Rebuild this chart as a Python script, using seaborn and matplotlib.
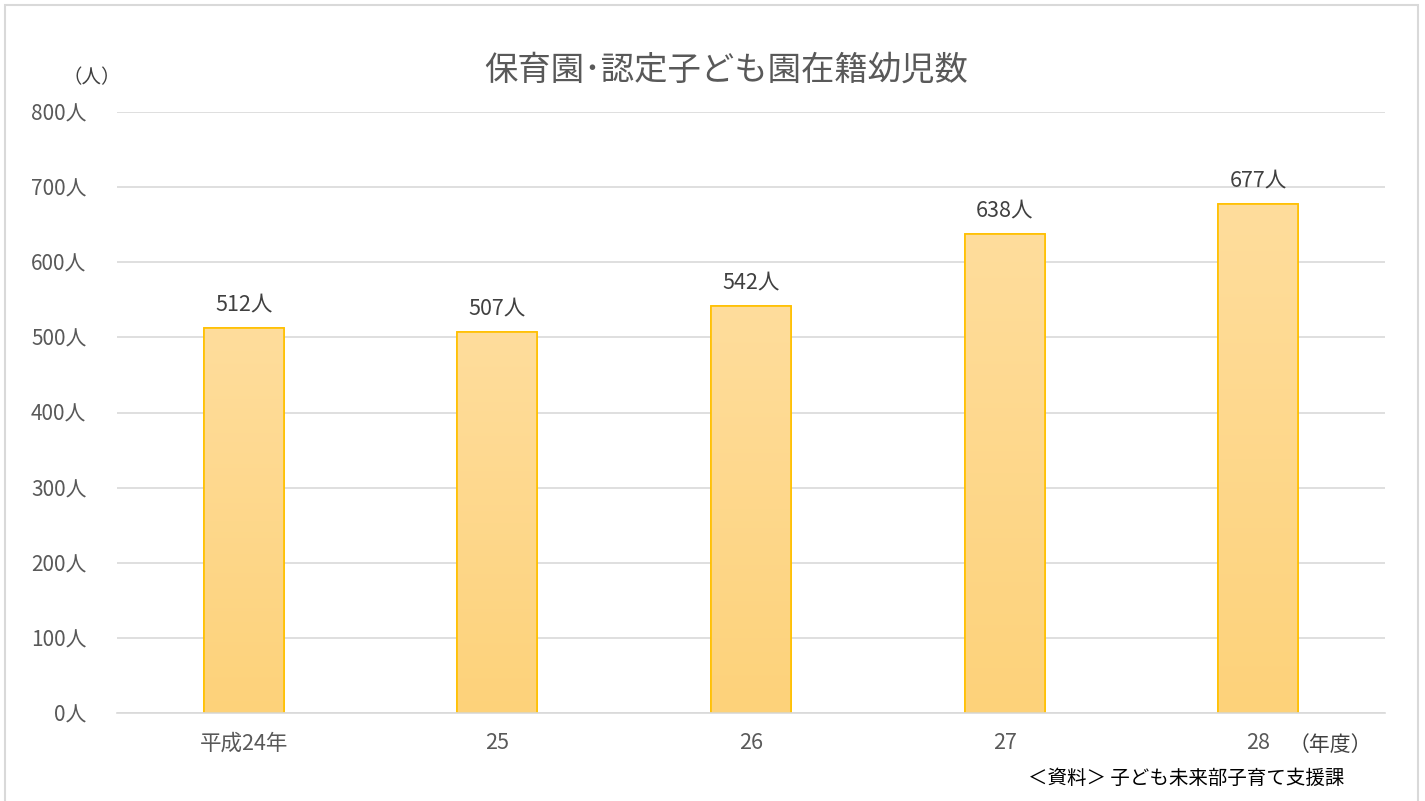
import matplotlib
matplotlib.use("Agg")
import matplotlib.pyplot as plt
import seaborn as sns
import numpy as np
import pandas as pd
from matplotlib.patches import Rectangle
from matplotlib.colors import LinearSegmentedColormap

categories = ["平成24年", "25", "26", "27", "28"]
values = [512, 507, 542, 638, 677]
yticks = [0, 100, 200, 300, 400, 500, 600, 700, 800]
ytick_labels = [f"{v}人" for v in yticks]
title = "保育園･認定子ども園在籍幼児数"
source = "＜資料＞ 子ども未来部子育て支援課"

sns.set_theme(style="white")
plt.rcParams['font.family'] = ['Noto Sans CJK JP', 'DejaVu Sans']

fig = plt.figure(figsize=(14.25, 8.01), dpi=100)
ax = fig.add_axes([117/1425, 1-713/801, (1385-117)/1425, (713-112)/801])

df = pd.DataFrame({"cat": categories, "val": values})
sns.barplot(data=df, x="cat", y="val", ax=ax, width=0.315,
            color="#FFD88C", edgecolor="#FFC000", linewidth=1.2, saturation=1)

# gradient fill
grad = np.linspace(0, 1, 256).reshape(-1, 1)
cmap = LinearSegmentedColormap.from_list("g", ["#FDD27A", "#FFDD9C"])
for p in list(ax.patches):
    x0, y0 = p.get_x(), p.get_y()
    w, h = p.get_width(), p.get_height()
    im = ax.imshow(grad, extent=[x0, x0 + w, y0, y0 + h], origin="lower",
                   cmap=cmap, aspect="auto", zorder=p.get_zorder() + 0.1)
    im.set_clip_path(p)
    edge = Rectangle((x0, y0), w, h, fill=False, edgecolor="#FFC000",
                     linewidth=1.2, zorder=p.get_zorder() + 0.2)
    ax.add_patch(edge)

ax.set_xlim(-0.5, len(categories) - 0.5)
ax.set_ylim(0, 800)
ax.set_yticks(yticks)
ax.set_yticklabels(ytick_labels)
ax.yaxis.grid(True, color="#D9D9D9", linewidth=1.2)
ax.set_axisbelow(True)
for s in ["top", "right", "left"]:
    ax.spines[s].set_visible(False)
ax.spines["bottom"].set_color("#D9D9D9")
ax.spines["bottom"].set_linewidth(1.2)
ax.tick_params(axis="y", length=0, labelsize=15, colors="#595959", pad=22)
ax.tick_params(axis="x", length=0, labelsize=15.5, colors="#595959", pad=14)
ax.set_xlabel("")
ax.set_ylabel("")

for i, v in enumerate(values):
    ax.annotate(f"{v}人", (i, v), xytext=(0, 9), textcoords="offset points",
                ha="center", va="bottom", fontsize=15.5, color="#404040")

fig.text(726/1425, 1-70/801, title, ha="center", va="center",
         fontsize=24, color="#595959")
fig.text(92/1425, 1-78/801, "（人）", ha="center", va="center",
         fontsize=14, color="#404040")
fig.text(1330/1425, 1-745/801, "（年度）", ha="center", va="center",
         fontsize=15, color="#404040")
fig.text(1186/1425, 1-778/801, source, ha="center", va="center",
         fontsize=14, color="#000000")

fig.patches.append(Rectangle((5/1425, -0.01), (1418-5)/1425, 1-5/801 + 0.01,
                             transform=fig.transFigure, fill=False,
                             edgecolor="#D9D9D9", linewidth=1.5))

fig.savefig("out.png", dpi=100, facecolor="white")
